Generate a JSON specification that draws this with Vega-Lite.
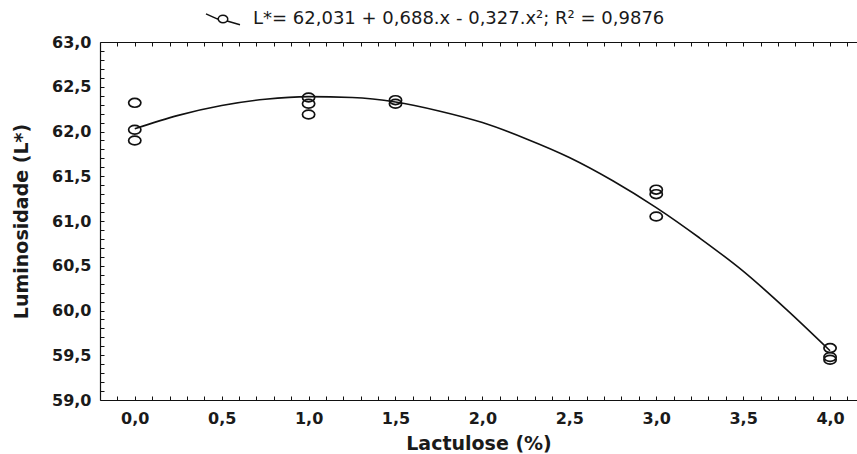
{
  "$schema": "https://vega.github.io/schema/vega-lite/v6.json",
  "autosize": "none",
  "width": 757,
  "height": 358,
  "padding": {"left": 100, "top": 42, "right": 0, "bottom": 54},
  "background": "white",
  "config": {
    "view": {"stroke": null},
    "font": "DejaVu Sans",
    "axis": {
      "domainColor": "#111",
      "domainWidth": 1.2,
      "tickColor": "#111",
      "tickWidth": 1,
      "tickSize": -4,
      "grid": false,
      "labelOverlap": false,
      "labelFont": "DejaVu Sans",
      "labelFontWeight": "bold",
      "labelFontSize": 16,
      "labelColor": "#1a1a1a",
      "titleFont": "DejaVu Sans",
      "titleFontWeight": "bold",
      "titleFontSize": 19,
      "titleColor": "#1a1a1a"
    }
  },
  "datasets": {
    "pts": [
      {"lactulose": 0.0, "L": 62.32}, {"lactulose": 0.0, "L": 62.02}, {"lactulose": 0.0, "L": 61.90},
      {"lactulose": 1.0, "L": 62.38}, {"lactulose": 1.0, "L": 62.31}, {"lactulose": 1.0, "L": 62.19},
      {"lactulose": 1.5, "L": 62.35}, {"lactulose": 1.5, "L": 62.31},
      {"lactulose": 3.0, "L": 61.35}, {"lactulose": 3.0, "L": 61.30}, {"lactulose": 3.0, "L": 61.05},
      {"lactulose": 4.0, "L": 59.58}, {"lactulose": 4.0, "L": 59.48}, {"lactulose": 4.0, "L": 59.45}
    ],
    "fit": [
      {"x": 0.0, "y": 62.03}, {"x": 0.25, "y": 62.18}, {"x": 0.5, "y": 62.29}, {"x": 0.75, "y": 62.36},
      {"x": 1.0, "y": 62.39}, {"x": 1.25, "y": 62.38}, {"x": 1.5, "y": 62.33}, {"x": 1.75, "y": 62.23},
      {"x": 2.0, "y": 62.10}, {"x": 2.25, "y": 61.92}, {"x": 2.5, "y": 61.71}, {"x": 2.75, "y": 61.45},
      {"x": 3.0, "y": 61.15}, {"x": 3.25, "y": 60.81}, {"x": 3.5, "y": 60.44}, {"x": 3.75, "y": 60.01},
      {"x": 4.0, "y": 59.55}
    ]
  },
  "layer": [
    {
      "data": {"name": "fit"},
      "mark": {"type": "line", "color": "#111", "strokeWidth": 1.6, "interpolate": "monotone", "clip": true},
      "encoding": {
        "x": {
          "field": "x", "type": "quantitative",
          "scale": {"domain": [-0.2, 4.155], "nice": false, "zero": false},
          "axis": {
            "orient": "top", "title": null, "labels": false, "labelOverlap": false,
            "values": [-0.1,0,0.1,0.2,0.3,0.4,0.5,0.6,0.7,0.8,0.9,1,1.1,1.2,1.3,1.4,1.5,1.6,1.7,1.8,1.9,2,2.1,2.2,2.3,2.4,2.5,2.6,2.7,2.8,2.9,3,3.1,3.2,3.3,3.4,3.5,3.6,3.7,3.8,3.9,4,4.1]
          }
        },
        "y": {
          "field": "y", "type": "quantitative",
          "scale": {"domain": [59, 63], "nice": false, "zero": false},
          "axis": {
            "title": "Luminosidade (L*)",
            "titlePadding": 20,
            "labelPadding": 13,
            "labelOverlap": false,
            "values": [59,59.1,59.2,59.3,59.4,59.5,59.6,59.7,59.8,59.9,60,60.1,60.2,60.3,60.4,60.5,60.6,60.7,60.8,60.9,61,61.1,61.2,61.3,61.4,61.5,61.6,61.7,61.8,61.9,62,62.1,62.2,62.3,62.4,62.5,62.6,62.7,62.8,62.9,63],
            "labelExpr": "abs(datum.value*2 - round(datum.value*2)) < 0.01 ? replace(format(datum.value, '.1f'), '.', ',') : ''"
          }
        }
      }
    },
    {
      "data": {"name": "pts"},
      "transform": [{"calculate": "'L*= 62,031 + 0,688.x - 0,327.x²; R² = 0,9876'", "as": "serie"}],
      "mark": {
        "type": "point", "filled": false, "strokeWidth": 1.7, "size": 150, "opacity": 1,
        "shape": "M-1,0 A1,0.72 0 1,0 1,0 A1,0.72 0 1,0 -1,0 Z"
      },
      "encoding": {
        "x": {
          "field": "lactulose", "type": "quantitative",
          "axis": {
            "orient": "bottom", "title": "Lactulose (%)",
            "labelPadding": 14, "titlePadding": 8, "labelOverlap": false,
            "values": [-0.1,0,0.1,0.2,0.3,0.4,0.5,0.6,0.7,0.8,0.9,1,1.1,1.2,1.3,1.4,1.5,1.6,1.7,1.8,1.9,2,2.1,2.2,2.3,2.4,2.5,2.6,2.7,2.8,2.9,3,3.1,3.2,3.3,3.4,3.5,3.6,3.7,3.8,3.9,4,4.1],
            "labelExpr": "(datum.value > -0.01 && abs(datum.value*2 - round(datum.value*2)) < 0.01) ? replace(format(datum.value, '.1f'), '.', ',') : ''"
          }
        },
        "y": {
          "field": "L", "type": "quantitative",
          "axis": {
            "title": "Luminosidade (L*)",
            "titlePadding": 20,
            "labelPadding": 13,
            "labelOverlap": false,
            "values": [59,59.1,59.2,59.3,59.4,59.5,59.6,59.7,59.8,59.9,60,60.1,60.2,60.3,60.4,60.5,60.6,60.7,60.8,60.9,61,61.1,61.2,61.3,61.4,61.5,61.6,61.7,61.8,61.9,62,62.1,62.2,62.3,62.4,62.5,62.6,62.7,62.8,62.9,63],
            "labelExpr": "abs(datum.value*2 - round(datum.value*2)) < 0.01 ? replace(format(datum.value, '.1f'), '.', ',') : ''"
          }
        },
        "color": {
          "field": "serie", "type": "nominal",
          "scale": {"range": ["#111"]},
          "legend": {
            "orient": "none", "legendX": 105, "legendY": -41, "title": null,
            "padding": 0,
            "symbolType": "M-1,-0.3 L-0.28,0.02 M-0.28,0 A0.28,0.22 0 1,0 0.28,0 A0.28,0.22 0 1,0 -0.28,0 M0.24,0.12 L1,0.34",
            "symbolSize": 1156, "symbolStrokeWidth": 1.5, "symbolOpacity": 1, "symbolFillColor": "transparent", "symbolStrokeColor": "#111",
            "labelFont": "DejaVu Sans", "labelFontSize": 18, "labelColor": "#1a1a1a", "labelOffset": 12, "labelLimit": 600
          }
        }
      }
    }
  ],
  "resolve": {"axis": {"x": "independent"}}
}
